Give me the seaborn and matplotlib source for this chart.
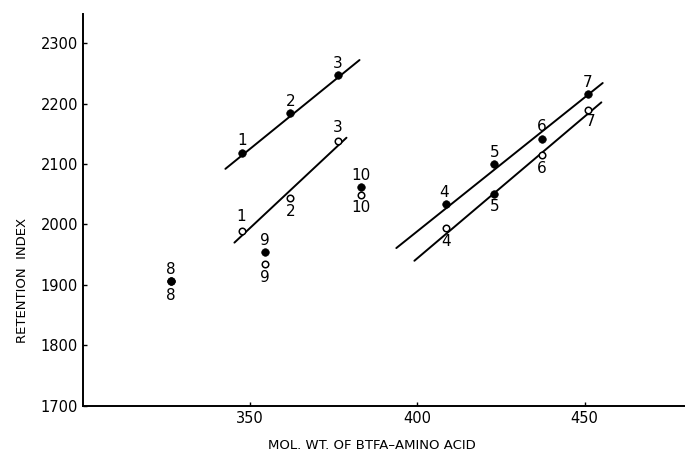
import numpy as np
import pandas as pd
import matplotlib
matplotlib.use("Agg")
import matplotlib.pyplot as plt
import seaborn as sns

# compound numbers and molecular weights of the BTFA derivatives
compound = ["1", "2", "3", "4", "5", "6", "7", "8", "9", "10"]
mol_wt = [347.7, 362.0, 376.3, 408.7, 423.0, 437.3, 451.0, 326.4, 354.3, 383.1]

# retention indices on the two columns (filled / open symbols)
ri_filled = [2119, 2184, 2247, 2034, 2100, 2142, 2216, 1907, 1954, 2062]
ri_open = [1990, 2043, 2138, 1994, 2051, 2115, 2189, 1907, 1934, 2049]

# straight lines drawn through the series (end points)
line_x = [[342.6, 382.7], [345.3, 378.8], [393.7, 455.4], [399.1, 455.0]]
line_y = [[2092, 2272], [1970, 2143.5], [1961, 2234], [1940, 2202]]

df = pd.DataFrame({"compound": compound, "mol_wt": mol_wt,
                   "filled": ri_filled, "open": ri_open})

sns.set_style("ticks", {"axes.edgecolor": "black", "xtick.color": "black",
                        "ytick.color": "black", "text.color": "black",
                        "axes.labelcolor": "black"})
plt.rcParams["font.family"] = ["DejaVu Sans"]

fig = plt.figure(figsize=(6.85, 4.54), dpi=100)
ax = fig.add_axes([0.121, 0.106, 0.879, 0.863])

for xs, ys in zip(line_x, line_y):
    sns.lineplot(x=xs, y=ys, ax=ax, color="black", lw=1.4, sort=False)

# points printed solid in the open series (overprinted in the original)
solid = df["compound"].isin(["5", "8"])
sns.scatterplot(data=df[~solid], x="mol_wt", y="open", ax=ax, marker="o",
                s=22, facecolor="white", edgecolor="black", linewidth=1.1, zorder=3)
sns.scatterplot(data=df[solid], x="mol_wt", y="open", ax=ax, marker="o",
                s=30, color="black", edgecolor="black", zorder=3)
sns.scatterplot(data=df, x="mol_wt", y="filled", ax=ax, marker="o",
                s=30, color="black", edgecolor="black", zorder=4)

# label offsets (points) for each number
above = (0, 3)
below = (0, -4)
filled_off = {c: above for c in compound}
filled_off["4"] = (-2, 3)
open_off = {c: below for c in compound}
open_off["1"] = (-1, 5)
open_off["3"] = (0, 4)
open_off["7"] = (2, -3)
open_off["8"] = (0, -5)

for c, x, yf, yo in zip(compound, mol_wt, ri_filled, ri_open):
    ax.annotate(c, (x, yf), xytext=filled_off[c], textcoords="offset points",
                ha="center", va="bottom", fontsize=11, color="black")
    ax.annotate(c, (x, yo), xytext=open_off[c], textcoords="offset points",
                ha="center", va="top" if open_off[c][1] < 0 else "bottom",
                fontsize=11, color="black")

ax.set_xlim(300, 480)
ax.set_ylim(1700, 2348)
ax.set_xticks([350, 400, 450])
ax.set_yticks([1700, 1800, 1900, 2000, 2100, 2200, 2300])
ax.tick_params(direction="in", length=3, width=1, labelsize=10.5, colors="black")
for s in ["left", "bottom"]:
    ax.spines[s].set_linewidth(1.4)
sns.despine(ax=ax)

ax.set_xlabel("MOL. WT. OF BTFA\u2013AMINO ACID", fontsize=9.5, labelpad=8)
ax.set_ylabel("RETENTION  INDEX", fontsize=9.5, labelpad=6)
ax.yaxis.set_label_coords(-0.09, 0.32)
ax.xaxis.set_label_coords(0.48, -0.085)

fig.savefig("out.png", dpi=100)
